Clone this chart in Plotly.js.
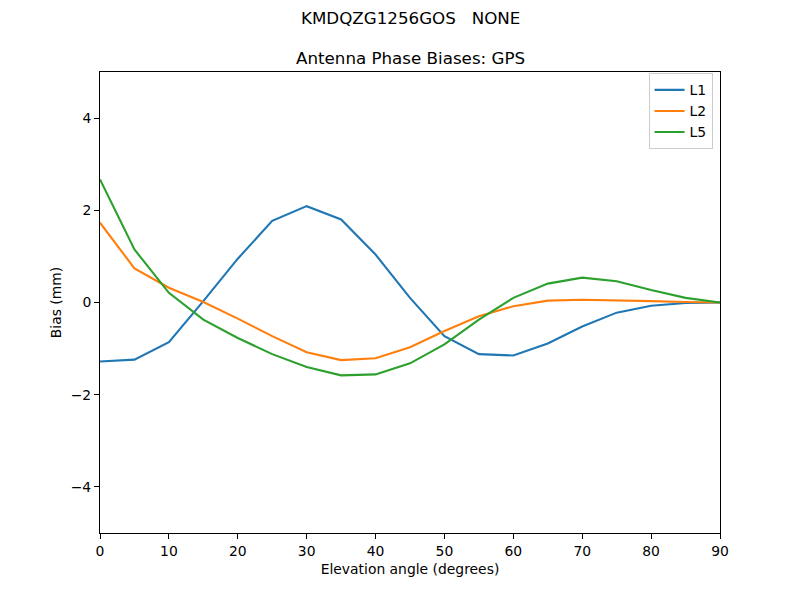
<!DOCTYPE html>
<html>
<head>
<meta charset="utf-8">
<script src="https://cdn.plot.ly/plotly-3.0.1.min.js"></script>
<style>html,body{margin:0;padding:0;background:#fff;}#chart{width:800px;height:600px;}</style>
</head>
<body>
<div id="chart"></div>
<script>
const elevation = [0,5,10,15,20,25,30,35,40,45,50,55,60,65,70,75,80,85,90];
const L1 = [-1.28,-1.24,-0.86,0.03,0.95,1.77,2.09,1.80,1.04,0.10,-0.73,-1.12,-1.15,-0.89,-0.52,-0.22,-0.07,-0.01,0];
const L2 = [1.73,0.74,0.32,0.01,-0.35,-0.73,-1.08,-1.25,-1.21,-0.97,-0.62,-0.30,-0.08,0.04,0.06,0.05,0.03,0.01,0];
const L5 = [2.67,1.15,0.21,-0.37,-0.77,-1.12,-1.40,-1.58,-1.56,-1.32,-0.91,-0.37,0.10,0.41,0.54,0.46,0.27,0.10,0];
const seriesNames = ['L1','L2','L5'];
const colors = ['#1f77b4','#ff7f0e','#2ca02c'];
const suptitle = 'KMDQZG1256GOS   NONE';
const title = 'Antenna Phase Biases: GPS';

const font = 'DejaVu Sans, sans-serif';
const traces = [L1, L2, L5].map((ys, i) => ({
  x: elevation, y: ys, type: 'scatter', mode: 'lines', name: seriesNames[i],
  line: {color: colors[i], width: 2.1}
}));

const layout = {
  width: 800, height: 600,
  margin: {l: 100, r: 80, t: 72, b: 67},
  paper_bgcolor: '#fff', plot_bgcolor: '#fff',
  font: {family: font, size: 13.9, color: '#000'},
  showlegend: true,
  legend: {x: 0.988, y: 0.997, xanchor: 'right', yanchor: 'top',
    bordercolor: '#cccccc', borderwidth: 1, bgcolor: 'rgba(255,255,255,0.8)',
    font: {family: font, size: 13.9}, tracegroupgap: 0},
  xaxis: {range: [0, 90], tickvals: [0,10,20,30,40,50,60,70,80,90],
    showgrid: false, zeroline: false, showline: true, mirror: true, linecolor: '#000', linewidth: 1,
    ticks: 'outside', ticklen: 5, tickcolor: '#000', tickfont: {family: font, size: 13.9},
    title: {text: 'Elevation angle (degrees)', font: {family: font, size: 13.9}, standoff: 6}},
  yaxis: {range: [-5, 5], tickvals: [-4,-2,0,2,4],
    showgrid: false, zeroline: false, showline: true, mirror: true, linecolor: '#000', linewidth: 1,
    ticks: 'outside', ticklen: 5, tickcolor: '#000', tickfont: {family: font, size: 13.9},
    title: {text: 'Bias (mm)', font: {family: font, size: 13.9}, standoff: 5}},
  annotations: [
    {text: suptitle, xref: 'paper', yref: 'paper', x: 0.5, y: 1 + 54/461, xanchor: 'center', yanchor: 'middle',
      showarrow: false, font: {family: font, size: 16.7}},
    {text: title, xref: 'paper', yref: 'paper', x: 0.5, y: 1 + 14/461, xanchor: 'center', yanchor: 'middle',
      showarrow: false, font: {family: font, size: 16.7}}
  ]
};
Plotly.newPlot('chart', traces, layout, {displayModeBar: false, staticPlot: true});
</script>
</body>
</html>
